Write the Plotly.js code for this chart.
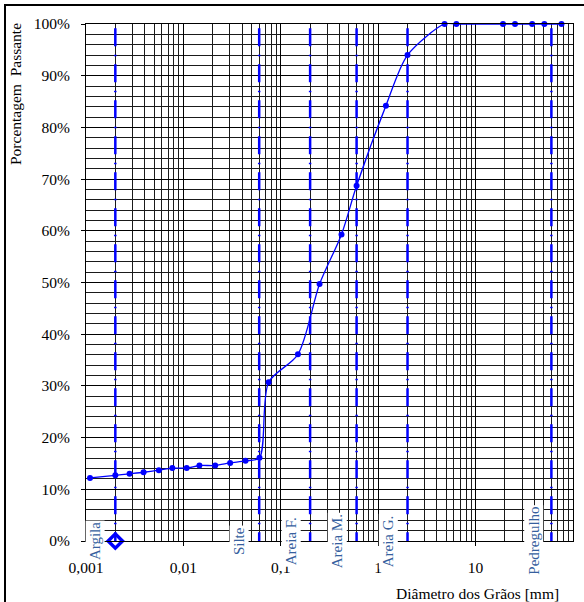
<!DOCTYPE html>
<html>
<head>
<meta charset="utf-8">
<script src="https://cdn.plot.ly/plotly-3.0.1.min.js"></script>
<style>
html,body{margin:0;padding:0;background:#fff;}
#chart{width:584px;height:602px;}
</style>
</head>
<body>
<div id="chart"></div>
<script>
// Grain size distribution (diameter in mm, % passing)
const diameters = [0.0011, 0.0020, 0.0028, 0.0039, 0.0056, 0.0077, 0.0108, 0.0146, 0.0212, 0.0302, 0.0434, 0.0604,
                   0.075, 0.15, 0.25, 0.42, 0.6, 1.2, 2.0, 4.8, 6.35, 19.1, 25.4, 38.1, 50.8, 76.2];
const passing   = [12.2, 12.7, 13.0, 13.3, 13.7, 14.1, 14.1, 14.6, 14.6, 15.1, 15.5, 16.1,
                   30.7, 36.1, 49.7, 59.3, 68.7, 84.2, 94.0, 100, 100, 100, 100, 100, 100, 100];

// Soil class boundaries (mm)
const boundaries = [0.002, 0.06, 0.2, 0.6, 2, 60];
const boundaryTop = 99.2;

// Class labels and where they sit along the axis (mm)
const classNames = ["Argila", "Silte", "Areia F.", "Areia M.", "Areia G.", "Pedregulho"];
const classPos   = [0.00124, 0.0373, 0.128, 0.38, 1.27, 39.5];

// Axis ticks
const xTickVals = [0.001, 0.01, 0.1, 1, 10];
const xTickText = ["0,001", "0,01", "0,1", "1", "10"];
const yTickVals = [0, 10, 20, 30, 40, 50, 60, 70, 80, 90, 100];
const yTickText = yTickVals.map(v => v + "%");

const xMinor = [];
[0.001, 0.01, 0.1, 1, 10].forEach(d => { for (let k = 2; k <= 9; k++) xMinor.push(+(d * k).toPrecision(3)); });

const FONT = "Liberation Serif";
const BLUE = "#0000FF";
const LABEL = "#365F9E";

const traces = [];
boundaries.forEach(b => {
  traces.push({
    x: [b, b], y: [boundaryTop, 0], mode: "lines", type: "scatter", hoverinfo: "skip",
    line: {color: BLUE, width: 2.5, dash: "18px,8.5px,1.5px,8px"}, showlegend: false
  });
});
traces.push({
  x: diameters, y: passing, mode: "lines+markers", type: "scatter", showlegend: false,
  cliponaxis: false,
  line: {color: BLUE, width: 1.3, shape: "spline", smoothing: 0.8},
  marker: {color: BLUE, size: 6}
});

const annotations = classNames.map((n, i) => ({
  text: n, x: Math.log10(classPos[i]), y: 0, xref: "x", yref: "y",
  xanchor: "center", yanchor: "middle", textangle: -90, showarrow: false,
  bgcolor: "#ffffff", borderpad: 1,
  font: {family: FONT, size: 15, color: LABEL}
}));
annotations.push({
  text: "Porcentagem  Passante", xref: "paper", yref: "paper", x: -0.1458, y: 0.8646,
  xanchor: "center", yanchor: "middle", textangle: -90, showarrow: false,
  font: {family: FONT, size: 15.5, color: "#000"}
});
annotations.push({
  text: "Diâmetro dos Grãos [mm]", xref: "paper", yref: "paper", x: 0.803, y: -0.1006,
  xanchor: "center", yanchor: "middle", showarrow: false,
  font: {family: FONT, size: 15.5, color: "#000"}
});

const layout = {
  width: 584, height: 602,
  margin: {l: 86, r: 11, t: 24, b: 61},
  paper_bgcolor: "#fff", plot_bgcolor: "#fff",
  font: {family: FONT, size: 14, color: "#000"},
  showlegend: false,
  xaxis: {
    type: "log", range: [-3, 2], tickmode: "array", tickvals: xTickVals, ticktext: xTickText,
    showgrid: true, gridcolor: "#000", gridwidth: 1,
    ticks: "outside", ticklen: 4, tickcolor: "#000", ticklabelstandoff: 8,
    showline: true, linecolor: "#000", linewidth: 1, mirror: true, zeroline: false,
    minor: {tickmode: "array", tickvals: xMinor, showgrid: true, gridcolor: "#1a1a1a", gridwidth: 1, ticks: ""},
    tickfont: {family: FONT, size: 15.5, color: "#000"}
  },
  yaxis: {
    range: [0, 100], tickmode: "array", tickvals: yTickVals, ticktext: yTickText,
    showgrid: true, gridcolor: "#000", gridwidth: 1,
    ticks: "outside", ticklen: 4, tickcolor: "#000", ticklabelstandoff: 8,
    showline: true, linecolor: "#000", linewidth: 1, mirror: true, zeroline: false,
    minor: {dtick: 2, showgrid: true, gridcolor: "#1a1a1a", gridwidth: 1, ticks: ""},
    tickfont: {family: FONT, size: 15.5, color: "#000"}
  },
  annotations: annotations,
  shapes: [{
    type: "rect", xref: "paper", yref: "paper",
    x0: (5 - 86) / 487, x1: 1.1, y0: -0.2, y1: (541 - 5) / 517,
    line: {color: "#000", width: 2}, fillcolor: "rgba(0,0,0,0)", layer: "above"
  }]
};

Plotly.newPlot("chart", traces, layout, {staticPlot: true, displayModeBar: false}).then(() => {
  // diamond marker at the foot of the clay boundary, drawn above the label boxes
  Plotly.addTraces("chart", {
    x: [boundaries[0]], y: [0], mode: "markers", type: "scatter", showlegend: false, cliponaxis: false,
    marker: {symbol: "diamond-open", size: 11, color: BLUE, line: {color: BLUE, width: 3.5}}
  });
});
</script>
</body>
</html>
